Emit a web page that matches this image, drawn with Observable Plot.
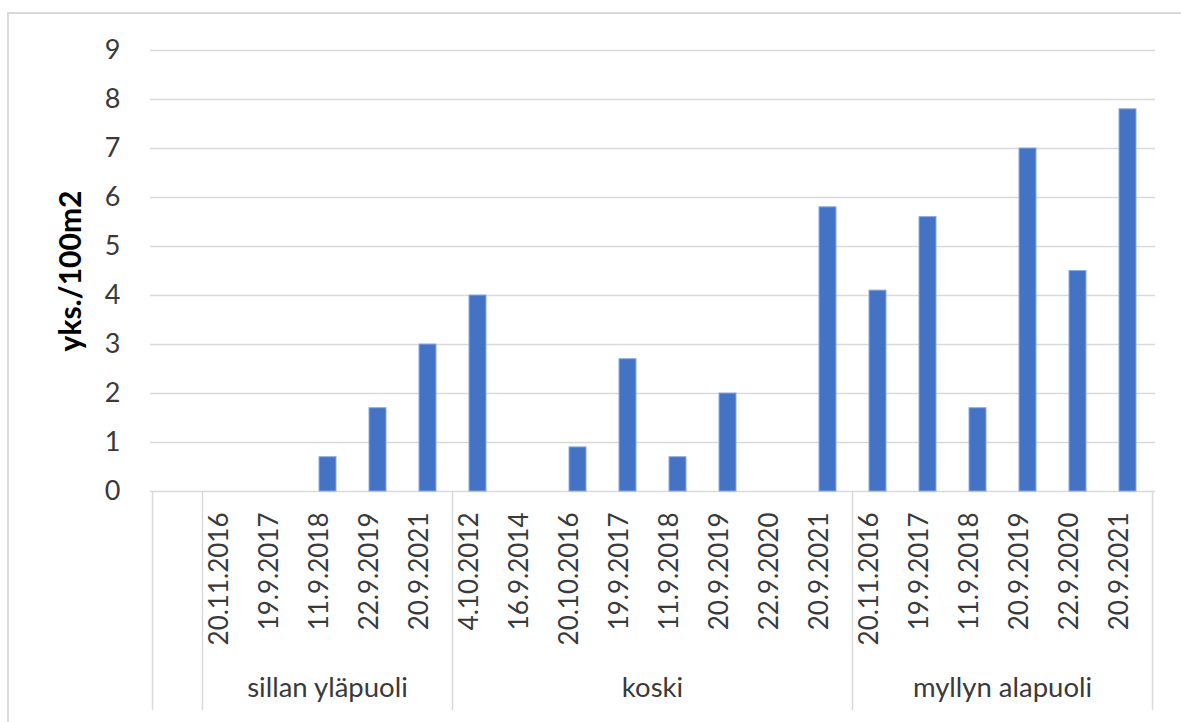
<!DOCTYPE html>
<html>
<head>
<meta charset="utf-8">
<script src="https://cdn.jsdelivr.net/npm/d3@7"></script>
<script src="https://cdn.jsdelivr.net/npm/@observablehq/plot@0.6"></script>
<style>
  html, body { margin: 0; padding: 0; background: #fff; overflow: hidden; }
  #wrap { position: relative; width: 1181px; height: 722px; }
  #frame { position: absolute; left: 7px; top: 12px; width: 1300px; height: 900px;
           border: 2px solid #d9d9d9; box-sizing: border-box; pointer-events: none; }
  #chart svg { display: block; font-family: Lato, "Open Sans", sans-serif; }
</style>
</head>
<body>
<div id="wrap">
  <div id="chart"></div>
  <div id="frame"></div>
</div>
<script>
// ---- data ----
const sites = ["",
  "sillan yläpuoli", "sillan yläpuoli", "sillan yläpuoli", "sillan yläpuoli", "sillan yläpuoli",
  "koski", "koski", "koski", "koski", "koski", "koski", "koski", "koski",
  "myllyn alapuoli", "myllyn alapuoli", "myllyn alapuoli", "myllyn alapuoli", "myllyn alapuoli", "myllyn alapuoli"];
const dates = ["",
  "20.11.2016", "19.9.2017", "11.9.2018", "22.9.2019", "20.9.2021",
  "4.10.2012", "16.9.2014", "20.10.2016", "19.9.2017", "11.9.2018", "20.9.2019", "22.9.2020", "20.9.2021",
  "20.11.2016", "19.9.2017", "11.9.2018", "20.9.2019", "22.9.2020", "20.9.2021"];
const values = [null,
  0, 0, 0.7, 1.7, 3.0,
  4.0, 0, 0.9, 2.7, 0.7, 2.0, 0, 5.8,
  4.1, 5.6, 1.7, 7.0, 4.5, 7.8];
const yTicks = [0, 1, 2, 3, 4, 5, 6, 7, 8, 9];
const yLabel = "yks./100m2";

// ---- table built from the arrays ----
const keys = dates.map((d, i) => sites[i] + "|" + d);
const data = keys.map((k, i) => ({key: k, site: sites[i], date: dates[i], value: values[i]}));

// group runs (contiguous categories with the same site)
const runs = [];
sites.forEach((s, i) => {
  if (runs.length && runs[runs.length - 1].site === s) runs[runs.length - 1].end = i;
  else runs.push({site: s, start: i, end: i});
});

const textColor = "#3a3a3a";
const lineColor = "#d9d9d9";

function groupLayer(index, scales, values, dims) {
  const x = scales.x;
  const bw = typeof x.bandwidth === "function" ? x.bandwidth() : x.bandwidth;
  const step = x(keys[1]) - x(keys[0]);
  const gap = (step - bw) / 2;
  const y0 = dims.height - dims.marginBottom;
  const g = d3.create("svg:g");
  const edges = [];
  runs.forEach((r, i) => {
    edges.push(x(keys[r.start]) - gap);
    if (i === runs.length - 1) edges.push(x(keys[r.end]) + bw + gap);
  });
  edges.forEach(e => {
    g.append("line").attr("x1", e).attr("x2", e).attr("y1", y0).attr("y2", y0 + 219)
      .attr("stroke", lineColor).attr("stroke-width", 1.5);
  });
  runs.forEach(r => {
    if (!r.site) return;
    const cx = (x(keys[r.start]) + x(keys[r.end]) + bw) / 2;
    g.append("text").attr("x", cx).attr("y", y0 + 199)
      .attr("text-anchor", "middle").attr("dominant-baseline", "middle")
      .attr("fill", textColor).attr("font-size", 27.5)
      .text(r.site);
  });
  return g.node();
}

const plot = Plot.plot({
  width: 1181,
  height: 722,
  marginLeft: 150,
  marginRight: 26,
  marginTop: 50,
  marginBottom: 231,
  x: {type: "band", domain: keys, paddingInner: 0.66, paddingOuter: 0.33, axis: null},
  y: {domain: [0, 9], axis: null},
  marks: [
    Plot.ruleY(yTicks, {y: d => d, stroke: lineColor, strokeWidth: 1.5}),
    Plot.barY(data.filter(d => d.value != null), {x: "key", y: "value", fill: "#4472c4", stroke: "#8faadc", strokeWidth: 1}),
    Plot.text(yTicks, {y: d => d, text: d => String(d), frameAnchor: "left", dx: -30, textAnchor: "end", fontSize: 27, fill: textColor}),
    Plot.text(data.filter(d => d.date), {x: "key", text: "date", frameAnchor: "bottom", dy: 21, rotate: -90, textAnchor: "end", fontSize: 26, fill: textColor}),
    Plot.text([yLabel], {text: d => d, frameAnchor: "left", dx: -79, rotate: -90, textAnchor: "middle", fontSize: 30, fontWeight: "bold", fill: "#000"}),
    groupLayer
  ]
});
document.getElementById("chart").appendChild(plot);
</script>
</body>
</html>
